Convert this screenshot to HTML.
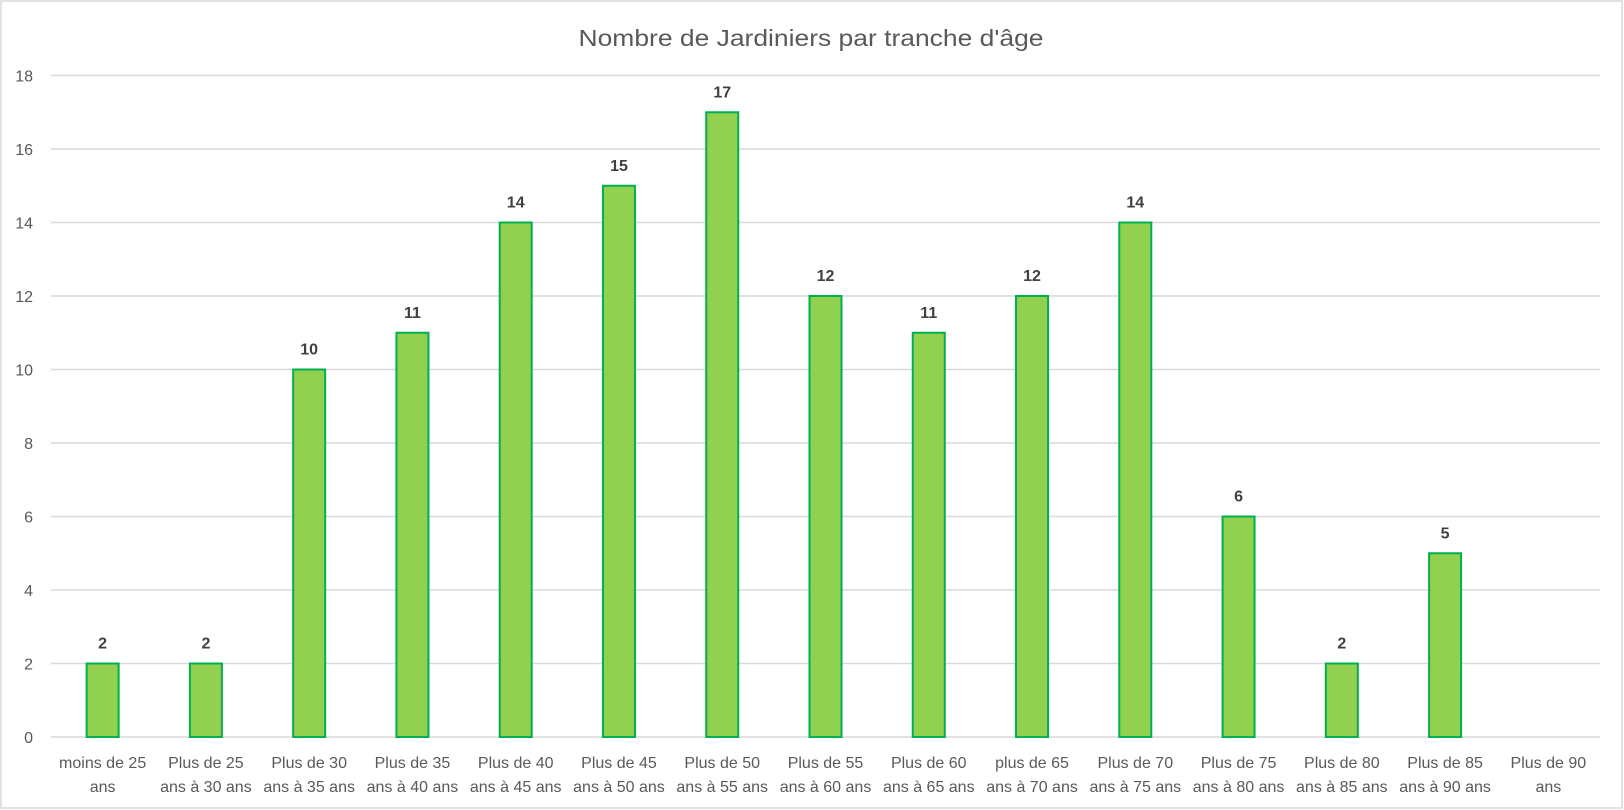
<!DOCTYPE html>
<html><head><meta charset="utf-8"><style>
body{margin:0;background:#fff}
svg{display:block;font-family:"Liberation Sans",sans-serif}
</style></head><body>
<svg id="chart" width="1624" height="810" viewBox="0 0 1624 810" xmlns="http://www.w3.org/2000/svg">
<rect x="1" y="1" width="1621" height="807" fill="#fff" stroke="#d9d9d9" stroke-width="1.5"/>
<text x="811" y="46" text-anchor="middle" font-size="23" fill="#595959" textLength="465" lengthAdjust="spacingAndGlyphs">Nombre de Jardiniers par tranche d'âge</text>
<g id="grid"></g><g id="bars"></g><g id="labels"></g>
</svg>
<script>
const categories=[["moins de 25","ans"],["Plus de 25","ans à 30 ans"],["Plus de 30","ans à 35 ans"],["Plus de 35","ans à 40 ans"],["Plus de 40","ans à 45 ans"],["Plus de 45","ans à 50 ans"],["Plus de 50","ans à 55 ans"],["Plus de 55","ans à 60 ans"],["Plus de 60","ans à 65 ans"],["plus de 65","ans à 70 ans"],["Plus de 70","ans à 75 ans"],["Plus de 75","ans à 80 ans"],["Plus de 80","ans à 85 ans"],["Plus de 85","ans à 90 ans"],["Plus de 90","ans"]];
const values=[2,2,10,11,14,15,17,12,11,12,14,6,2,5,null];
const yTicks=[0,2,4,6,8,10,12,14,16,18];
const NS="http://www.w3.org/2000/svg";
const L=51,R=1600,Y0=737,YMAX=75.5,VMAX=18;
const y=v=>Y0-(v/VMAX)*(Y0-YMAX);
const bw=(R-L)/categories.length;
const x=i=>L+bw*(i+0.5);
function mk(tag,attrs,parent){const e=document.createElementNS(NS,tag);for(const k in attrs)e.setAttribute(k,attrs[k]);parent.appendChild(e);return e;}
const grid=document.getElementById('grid'),bars=document.getElementById('bars'),labels=document.getElementById('labels');
yTicks.forEach(t=>{
  const l=mk('line',{x1:L,x2:R,y1:y(t),y2:y(t),stroke:'#d9d9d9','stroke-width':1.5},grid);
  
  
  const tx=mk('text',{x:33,y:y(t)+6,'text-anchor':'end','font-size':16,fill:'#595959'},grid);
  tx.textContent=t;
  
  
});
values.forEach((v,i)=>{
  if(v!==null&&v>0){
    const w=32;
    const r=mk('rect',{x:x(i)-w/2,y:y(v),width:w,height:Y0-y(v),fill:'#92d050',stroke:'#00b050','stroke-width':2},bars);
    
    
    const t=mk('text',{x:x(i),y:y(v)-15,'text-anchor':'middle','font-size':16,'font-weight':'bold',fill:'#404040'},labels);
    t.textContent=v;
    
    
  }
});
categories.forEach((c,i)=>{
  c.forEach((line,j)=>{
    const t=mk('text',{x:x(i),y:768+j*24,'text-anchor':'middle','font-size':16,fill:'#595959'},labels);
    t.textContent=line;
    
    
  });
});
</script>
</body></html>
